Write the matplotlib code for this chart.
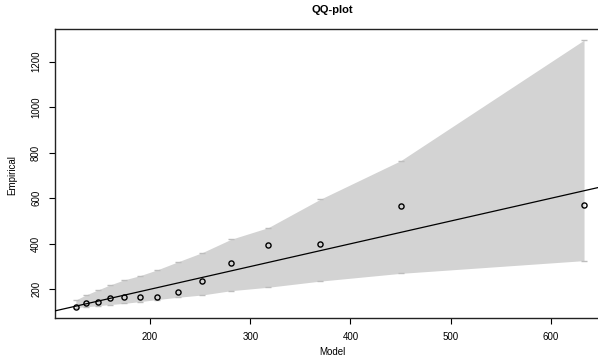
import numpy as np
import matplotlib
matplotlib.use('Agg')
import matplotlib.pyplot as plt

plt.rcParams['font.family'] = ['Liberation Sans', 'DejaVu Sans']

# theoretical quantiles (model) and empirical quantiles
model = [126, 136, 148, 160, 174, 190, 207, 228, 252, 281, 318, 370, 450, 633]
empirical = [123, 138, 145, 160, 165, 167, 167, 189, 236, 315, 393, 397, 565, 569]

# confidence band
band_low = [120, 123, 128, 133, 138, 146, 155, 165, 175, 194, 209, 236, 270, 326]
band_high = [153, 175, 197, 219, 241, 260, 285, 321, 361, 420, 471, 596, 765, 1295]

xticks = [200, 300, 400, 500, 600]
yticks = [200, 400, 600, 800, 1000, 1200]

fig = plt.figure(figsize=(5.98, 3.59), dpi=100)
# plot region runs off the right edge, like the cropped original
ax = fig.add_axes([55/598, 1 - 318/359, (610 - 55)/598, (318 - 29)/359])

ax.fill_between(model, band_low, band_high, color='#d3d3d3', linewidth=0, zorder=1)
ax.plot(model, band_low, ls='none', marker='_', ms=4.5, mew=1, color='#bdbdbd', zorder=2)
ax.plot(model, band_high, ls='none', marker='_', ms=4.5, mew=1, color='#bdbdbd', zorder=2)

xs = np.array([100, 700])
ax.plot(xs, xs, color='black', lw=0.9, zorder=3)

ax.plot(model, empirical, ls='none', marker='o', ms=3.7, mfc='none', mec='black', mew=1.0, zorder=4)

ax.set_xlim(105.2, 658.9)
ax.set_ylim(73.9, 1343.7)
ax.set_xticks(xticks)
ax.set_yticks(yticks)
ax.tick_params(labelsize=7, length=4, width=0.8, direction='out', pad=6)
for lab in ax.get_yticklabels():
    lab.set_rotation(90)
    lab.set_va('center')
for s in ax.spines.values():
    s.set_linewidth(1.0)
    s.set_color('#222222')
ax.spines['right'].set_visible(False)

fig.text(332/598, 1 - 10/359, 'QQ-plot', ha='center', va='center', fontsize=8, fontweight='bold')
fig.text(332/598, 1 - 352/359, 'Model', ha='center', va='center', fontsize=7)
fig.text(12/598, 1 - 175/359, 'Empirical', ha='center', va='center', fontsize=7, rotation=90)

fig.savefig('out.png', dpi=100)
